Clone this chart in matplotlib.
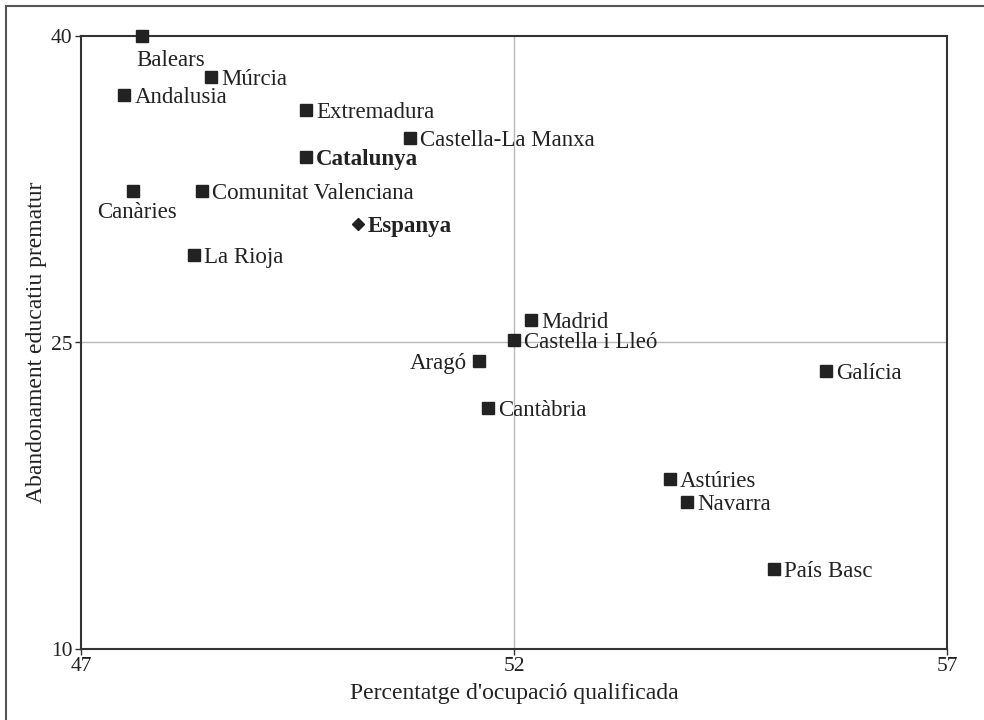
import numpy as np
import matplotlib
matplotlib.use("Agg")
import matplotlib.pyplot as plt
from matplotlib.lines import Line2D

plt.rcParams['font.family'] = ['Liberation Serif', 'DejaVu Serif']

# regions: (name, occupacio qualificada, abandonament prematur)
names = ["Balears", "Múrcia", "Andalusia", "Extremadura", "Castella-La Manxa",
         "Catalunya", "Canàries", "Comunitat Valenciana", "La Rioja", "Madrid",
         "Castella i Lleó", "Aragó", "Galícia", "Cantàbria", "Astúries",
         "Navarra", "País Basc"]
ocup = [47.7, 48.5, 47.5, 49.6, 50.8, 49.6, 47.6, 48.4, 48.3, 52.2,
        52.0, 51.6, 55.6, 51.7, 53.8, 54.0, 55.0]
aband = [40.0, 38.0, 37.1, 36.4, 35.0, 34.1, 32.4, 32.4, 29.3, 26.1,
         25.1, 24.1, 23.6, 21.8, 18.3, 17.2, 13.9]

espanya_x = 50.2
espanya_y = 30.8

txt = "#222222"

fig = plt.figure(figsize=(9.84, 7.2), dpi=100)
ax = fig.add_axes([81/984, 1 - 649/720, (947-81)/984, (649-36)/720])

ax.axvline(52, color="#b8b8b8", lw=1, zorder=0)
ax.axhline(25, color="#b8b8b8", lw=1, zorder=0)

ax.plot(ocup, aband, ls="none", marker="s", ms=8.5, color="#222222", zorder=3, clip_on=False)
ax.plot([espanya_x], [espanya_y], ls="none", marker="D", ms=6.5, color="#222222", zorder=3)

fs = 16.5
for n, x, y in zip(names, ocup, aband):
    weight = "bold" if n == "Catalunya" else "normal"
    if n == "Balears":
        off, ha, va = (-5, -22), "left", "center_baseline"
    elif n == "Canàries":
        off, ha, va = (4, -19), "center", "center_baseline"
    elif n == "Aragó":
        off, ha, va = (-12, 0), "right", "center_baseline"
    else:
        off, ha, va = (10, 0), "left", "center_baseline"
    ax.annotate(n, (x, y), xytext=off, textcoords="offset pixels",
                ha=ha, va=va, fontsize=fs, color=txt, fontweight=weight)

ax.annotate("Espanya", (espanya_x, espanya_y), xytext=(10, 0), textcoords="offset pixels",
            ha="left", va="center_baseline", fontsize=fs, color=txt, fontweight="bold")

ax.set_xlim(47, 57)
ax.set_ylim(10, 40)
ax.set_xticks([47, 52, 57])
ax.set_yticks([10, 25, 40])
ax.tick_params(direction="out", length=4, width=1, colors="#333333", labelsize=15.5,
               labelcolor=txt, pad=2)

for s in ax.spines.values():
    s.set_color("#333333")
    s.set_linewidth(1.5)

ax.set_xlabel("Percentatge d'ocupació qualificada", fontsize=17, color=txt, labelpad=5)
ax.set_ylabel("Abandonament educatiu prematur", fontsize=17, color=txt, labelpad=3)

# outer frame
fig.add_artist(Line2D([6/984, 6/984], [0, 1 - 6/720], color="#555555", lw=1.5))
fig.add_artist(Line2D([6/984, 1], [1 - 6/720, 1 - 6/720], color="#555555", lw=1.5))

fig.savefig("out.png", dpi=100)
